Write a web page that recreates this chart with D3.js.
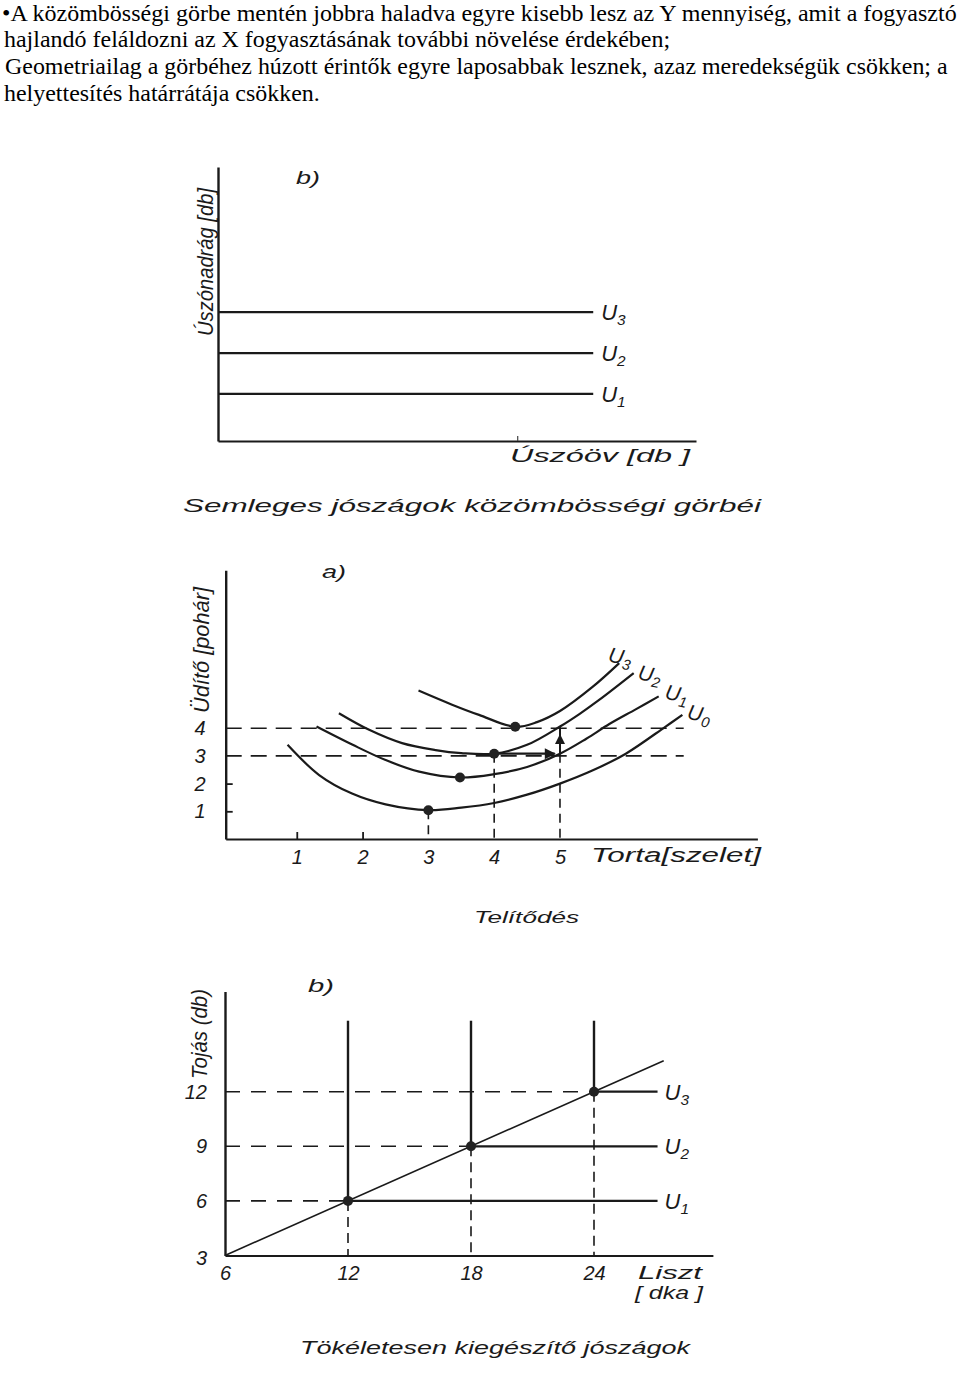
<!DOCTYPE html>
<html><head><meta charset="utf-8">
<script src="https://cdn.jsdelivr.net/npm/d3@7"></script>
<style>
html,body{margin:0;padding:0;background:#fff;}
svg{display:block;}
.serif{font-family:"Liberation Serif","Times New Roman",serif;fill:#000;}
.lab{font-family:"Liberation Sans","DejaVu Sans",sans-serif;font-style:italic;fill:#1a1a1a;}
</style>
</head><body>
<script>
// ---------- DATA ----------
const introLines = [
  "•A közömbösségi görbe mentén jobbra haladva egyre kisebb lesz az Y mennyiség, amit a fogyasztó",
  "hajlandó feláldozni az X fogyasztásának további növelése érdekében;",
  "Geometriailag a görbéhez húzott érintők egyre laposabbak lesznek, azaz meredekségük csökken; a",
  "helyettesítés határrátája csökken."
];

// Panel 1: neutral goods (horizontal indifference curves)
const p1Names = ["U1", "U2", "U3"];
const p1Levels = [1.15, 2.15, 3.15];
const p1LineEnd = 7.85;
const p1XLabel = "Úszóöv [db ]";
const p1YLabel = "Úszónadrág [db]";
const p1Caption = "Semleges jószágok közömbösségi görbéi";

// Panel 2: saturation
const p2XTicks = [1, 2, 3, 4, 5];
const p2YTicks = [1, 2, 3, 4];
const p2Names = ["U0", "U1", "U2", "U3"];
const p2U0 = [[0.86,3.40],[1.34,2.31],[1.84,1.64],[2.35,1.25],[3.0,1.04],[3.5,1.13],[4.0,1.3],[4.5,1.6],[5.0,2.0],[5.5,2.48],[6.0,3.08],[6.6,4.05],[6.86,4.48]];
const p2U1 = [[1.30,4.06],[1.85,3.40],[2.35,2.85],[2.86,2.43],[3.48,2.22],[4.0,2.34],[4.5,2.6],[5.0,3.08],[5.4,3.62],[5.75,4.15],[6.15,4.68],[6.50,5.15]];
const p2U2 = [[1.64,4.54],[2.10,3.94],[2.60,3.46],[3.11,3.21],[3.5,3.1],[4.0,3.08],[4.5,3.40],[5.0,4.06],[5.3,4.52],[5.6,5.03],[6.12,5.99]];
const p2U3 = [[2.85,5.36],[3.36,4.85],[3.77,4.48],[4.32,4.05],[4.65,4.22],[5.0,4.62],[5.49,5.48],[5.90,6.35]];
const p2Dots = [[3,1.04],[3.48,2.22],[4,3.08],[4.32,4.05]];
const p2LabelPos = [[6.92,4.35],[6.58,5.07],[6.17,5.78],[5.72,6.42]];
const p2DashedLevels = [3, 4];
const p2DashedEnd = 6.88;
const p2Drops = [[3,1.04],[4,3.08],[5,3.08]];
const p2XLabel = "Torta[szelet]";
const p2YLabel = "Üdítő [pohár]";
const p2Caption = "Telítődés";

// Panel 3: perfect complements
const p3XTicks = [6, 12, 18, 24];
const p3YTicks = [3, 6, 9, 12];
const p3Names = ["U1", "U2", "U3"];
const p3CornerX = [12, 18, 24];
const p3CornerY = [6, 9, 12];
const p3LineEnd = 27.1;
const p3VertTop = 15.9;
const p3Diagonal = [[6,3],[27.4,13.7]];
const p3XLabel1 = "Liszt";
const p3XLabel2 = "[ dka ]";
const p3YLabel = "Tojás (db)";
const p3Caption = "Tökéletesen kiegészítő jószágok";

// ---------- DRAW ----------
const W = 960, H = 1375;
const svg = d3.select("body").append("svg").attr("width", W).attr("height", H);
const ink = "#1a1a1a";

// intro text: condensed serif, each line scaled horizontally to its measured width
const introX = [2, 4, 5, 4];
const introW = [955, null, 943, 316];
const introNodes = introLines.map((t, i) =>
  svg.append("text").attr("class", "serif")
    .attr("x", 0).attr("y", 0)
    .attr("font-size", 23).text(t));
const nat = introNodes.map(n => n.node().getComputedTextLength());
const fAvg = d3.mean([0, 2, 3].map(i => introW[i] / nat[i]));
introNodes.forEach((n, i) => {
  const sx = introW[i] != null ? introW[i] / nat[i] : fAvg;
  n.attr("transform", `translate(${introX[i]},${20.5 + i * 26.8}) scale(${sx},1)`);
});

function uLabel(g, name, x, y, size, rot) {
  const t = g.append("text").attr("class", "lab").attr("font-size", size)
    .attr("transform", `translate(${x},${y}) rotate(${rot || 0})`);
  t.append("tspan").text(name[0]);
  t.append("tspan").attr("font-size", size * 0.7).attr("dy", size * 0.22).text(name.slice(1));
}
function rotLabel(g, txt, cx, cy, size, len) {
  g.append("text").attr("class", "lab").attr("font-size", size)
    .attr("text-anchor", "middle").attr("dominant-baseline", "central")
    .attr("transform", `translate(${cx},${cy}) rotate(-90)`)
    .attr("textLength", len).attr("lengthAdjust", "spacingAndGlyphs")
    .text(txt);
}
function plainLabel(g, txt, x, y, size, len, anchor) {
  const t = g.append("text").attr("class", "lab").attr("font-size", size)
    .attr("x", x).attr("y", y).attr("text-anchor", anchor || "start").text(txt);
  if (len) t.attr("textLength", len).attr("lengthAdjust", "spacingAndGlyphs");
  return t;
}

// ===== Panel 1 =====
{
  const g = svg.append("g");
  const x = d3.scaleLinear().domain([0, 10]).range([218, 696]);
  const y = d3.scaleLinear().domain([0, 6.7]).range([441, 167]);
  g.append("g").attr("transform", `translate(0,${y(0)})`)
    .call(d3.axisBottom(x).tickValues([]).tickSizeOuter(0))
    .call(a => a.select(".domain").attr("stroke", ink).attr("stroke-width", 2.2));
  g.append("g").attr("transform", `translate(${x(0)},0)`)
    .call(d3.axisLeft(y).tickValues([]).tickSizeOuter(0))
    .call(a => a.select(".domain").attr("stroke", ink).attr("stroke-width", 2.4));
  g.append("line").attr("x1", x(6.27)).attr("x2", x(6.27)).attr("y1", y(0)).attr("y2", y(0) - 5)
    .attr("stroke", "#444").attr("stroke-width", 1.2);
  p1Levels.forEach((v, i) => {
    g.append("line").attr("x1", x(0)).attr("x2", x(p1LineEnd)).attr("y1", y(v)).attr("y2", y(v))
      .attr("stroke", ink).attr("stroke-width", 2.2);
    uLabel(g, p1Names[i], x(p1LineEnd) + 8, y(v) + 8, 22, 0);
  });
  plainLabel(g, "b)", 296, 184, 19, 24);
  rotLabel(g, p1YLabel, 205, 262, 22, 148);
  plainLabel(g, p1XLabel, 510, 462, 19, 180);
  plainLabel(g, p1Caption, 183, 512, 18, 578);
}

// ===== Panel 2 =====
{
  const g = svg.append("g");
  const x = d3.scaleLinear().domain([-0.08, 8.0]).range([225.7, 757.4]);
  const y = d3.scaleLinear().domain([0, 9.7]).range([839, 570.3]);
  const xa = g.append("g").attr("transform", `translate(0,${y(0)})`)
    .call(d3.axisBottom(x).tickValues(p2XTicks).tickSize(-7).tickSizeOuter(0).tickPadding(11).tickFormat(d3.format("d")));
  xa.select(".domain").attr("stroke", ink).attr("stroke-width", 2.2);
  xa.selectAll(".tick line").attr("stroke", ink).attr("stroke-width", 1.8)
    .attr("display", d => d <= 2 ? null : "none");
  xa.selectAll(".tick text").attr("class", "lab").attr("font-size", 20).attr("fill", ink);
  const ya = g.append("g").attr("transform", `translate(${x(-0.08)},0)`)
    .call(d3.axisLeft(y).tickValues(p2YTicks).tickSize(-7).tickSizeOuter(0).tickPadding(20).tickFormat(d3.format("d")));
  ya.select(".domain").attr("stroke", ink).attr("stroke-width", 2.4);
  ya.selectAll(".tick line").attr("stroke", ink).attr("stroke-width", 1.8)
    .attr("display", d => d <= 2 ? null : "none");
  ya.selectAll(".tick text").attr("class", "lab").attr("font-size", 20).attr("fill", ink);

  p2DashedLevels.forEach(v => {
    g.append("line").attr("x1", x(-0.08)).attr("x2", x(p2DashedEnd)).attr("y1", y(v)).attr("y2", y(v))
      .attr("stroke", ink).attr("stroke-width", 1.6).attr("stroke-dasharray", "16,9");
  });
  p2Drops.forEach(d => {
    g.append("line").attr("x1", x(d[0])).attr("x2", x(d[0])).attr("y1", y(d[1])).attr("y2", y(0))
      .attr("stroke", ink).attr("stroke-width", 1.6).attr("stroke-dasharray", "9,6");
  });
  const line = d3.line().x(d => x(d[0])).y(d => y(d[1])).curve(d3.curveCatmullRom.alpha(0.5));
  [p2U0, p2U1, p2U2, p2U3].forEach(c => {
    g.append("path").attr("d", line(c)).attr("fill", "none").attr("stroke", ink).attr("stroke-width", 2.2);
  });
  const defs = svg.append("defs");
  defs.append("marker").attr("id", "arr").attr("viewBox", "0 0 10 10").attr("refX", 9).attr("refY", 5)
    .attr("markerWidth", 7).attr("markerHeight", 5).attr("orient", "auto")
    .append("path").attr("d", "M0,0L10,5L0,10Z").attr("fill", ink);
  g.append("line").attr("x1", x(4)).attr("x2", x(4.92)).attr("y1", y(3.08)).attr("y2", y(3.08))
    .attr("stroke", ink).attr("stroke-width", 2.2).attr("marker-end", "url(#arr)");
  g.append("line").attr("x1", x(5)).attr("x2", x(5)).attr("y1", y(3.08)).attr("y2", y(4.05))
    .attr("stroke", ink).attr("stroke-width", 2);
  g.append("line").attr("x1", x(5)).attr("x2", x(5)).attr("y1", y(3.3)).attr("y2", y(3.75))
    .attr("stroke", ink).attr("stroke-width", 2).attr("marker-end", "url(#arr)");
  g.selectAll("circle.d2").data(p2Dots).join("circle")
    .attr("cx", d => x(d[0])).attr("cy", d => y(d[1])).attr("r", 5).attr("fill", "#222");
  p2Names.forEach((n, i) => {
    uLabel(g, n, x(p2LabelPos[i][0]), y(p2LabelPos[i][1]), 21, 12);
  });
  plainLabel(g, "a)", 322, 578, 19, 24);
  rotLabel(g, p2YLabel, 201, 650, 22, 126);
  plainLabel(g, p2XLabel, 591, 862, 20, 170);
  plainLabel(g, p2Caption, 474, 923, 17, 105);
}

// ===== Panel 3 =====
{
  const g = svg.append("g");
  const x = d3.scaleLinear().domain([6, 29.8]).range([225, 712.9]);
  const y = d3.scaleLinear().domain([3, 17.5]).range([1255.5, 991.6]);
  const xa = g.append("g").attr("transform", `translate(0,${y(3)})`)
    .call(d3.axisBottom(x).tickValues(p3XTicks).tickSize(0).tickPadding(10).tickFormat(d3.format("d")));
  xa.select(".domain").attr("stroke", ink).attr("stroke-width", 2.2);
  xa.selectAll(".tick text").attr("class", "lab").attr("font-size", 20).attr("fill", ink);
  const ya = g.append("g").attr("transform", `translate(${x(6)},0)`)
    .call(d3.axisLeft(y).tickValues(p3YTicks).tickSize(0).tickPadding(18).tickFormat(d3.format("d")));
  ya.select(".domain").attr("stroke", ink).attr("stroke-width", 2.4);
  ya.selectAll(".tick text").attr("class", "lab").attr("font-size", 20).attr("fill", ink)
    .attr("dy", d => d === 3 ? "0.45em" : "0.32em");

  p3CornerX.forEach((cx, i) => {
    const cy = p3CornerY[i];
    g.append("line").attr("x1", x(6)).attr("x2", x(cx)).attr("y1", y(cy)).attr("y2", y(cy))
      .attr("stroke", ink).attr("stroke-width", 1.6).attr("stroke-dasharray", "15,11");
    g.append("line").attr("x1", x(cx)).attr("x2", x(p3LineEnd)).attr("y1", y(cy)).attr("y2", y(cy))
      .attr("stroke", ink).attr("stroke-width", 2.2);
    g.append("line").attr("x1", x(cx)).attr("x2", x(cx)).attr("y1", y(p3VertTop)).attr("y2", y(cy))
      .attr("stroke", ink).attr("stroke-width", 2.4);
    g.append("line").attr("x1", x(cx)).attr("x2", x(cx)).attr("y1", y(cy)).attr("y2", y(3))
      .attr("stroke", ink).attr("stroke-width", 1.6).attr("stroke-dasharray", "10,6");
    uLabel(g, p3Names[i], x(p3LineEnd) + 7, y(cy) + 8, 22, 0);
  });
  g.append("path").attr("d", d3.line().x(d => x(d[0])).y(d => y(d[1]))(p3Diagonal))
    .attr("fill", "none").attr("stroke", ink).attr("stroke-width", 1.6);
  g.selectAll("circle.d3").data(p3CornerX.map((cx, i) => [cx, p3CornerY[i]])).join("circle")
    .attr("cx", d => x(d[0])).attr("cy", d => y(d[1])).attr("r", 5).attr("fill", "#222");

  plainLabel(g, "b)", 308, 992, 19, 26);
  rotLabel(g, p3YLabel, 199, 1034, 22, 90);
  plainLabel(g, p3XLabel1, 638, 1279, 19, 64);
  plainLabel(g, p3XLabel2, 635, 1299, 19, 68);
  plainLabel(g, p3Caption, 300, 1354, 18, 390);
}
</script>
</body></html>
